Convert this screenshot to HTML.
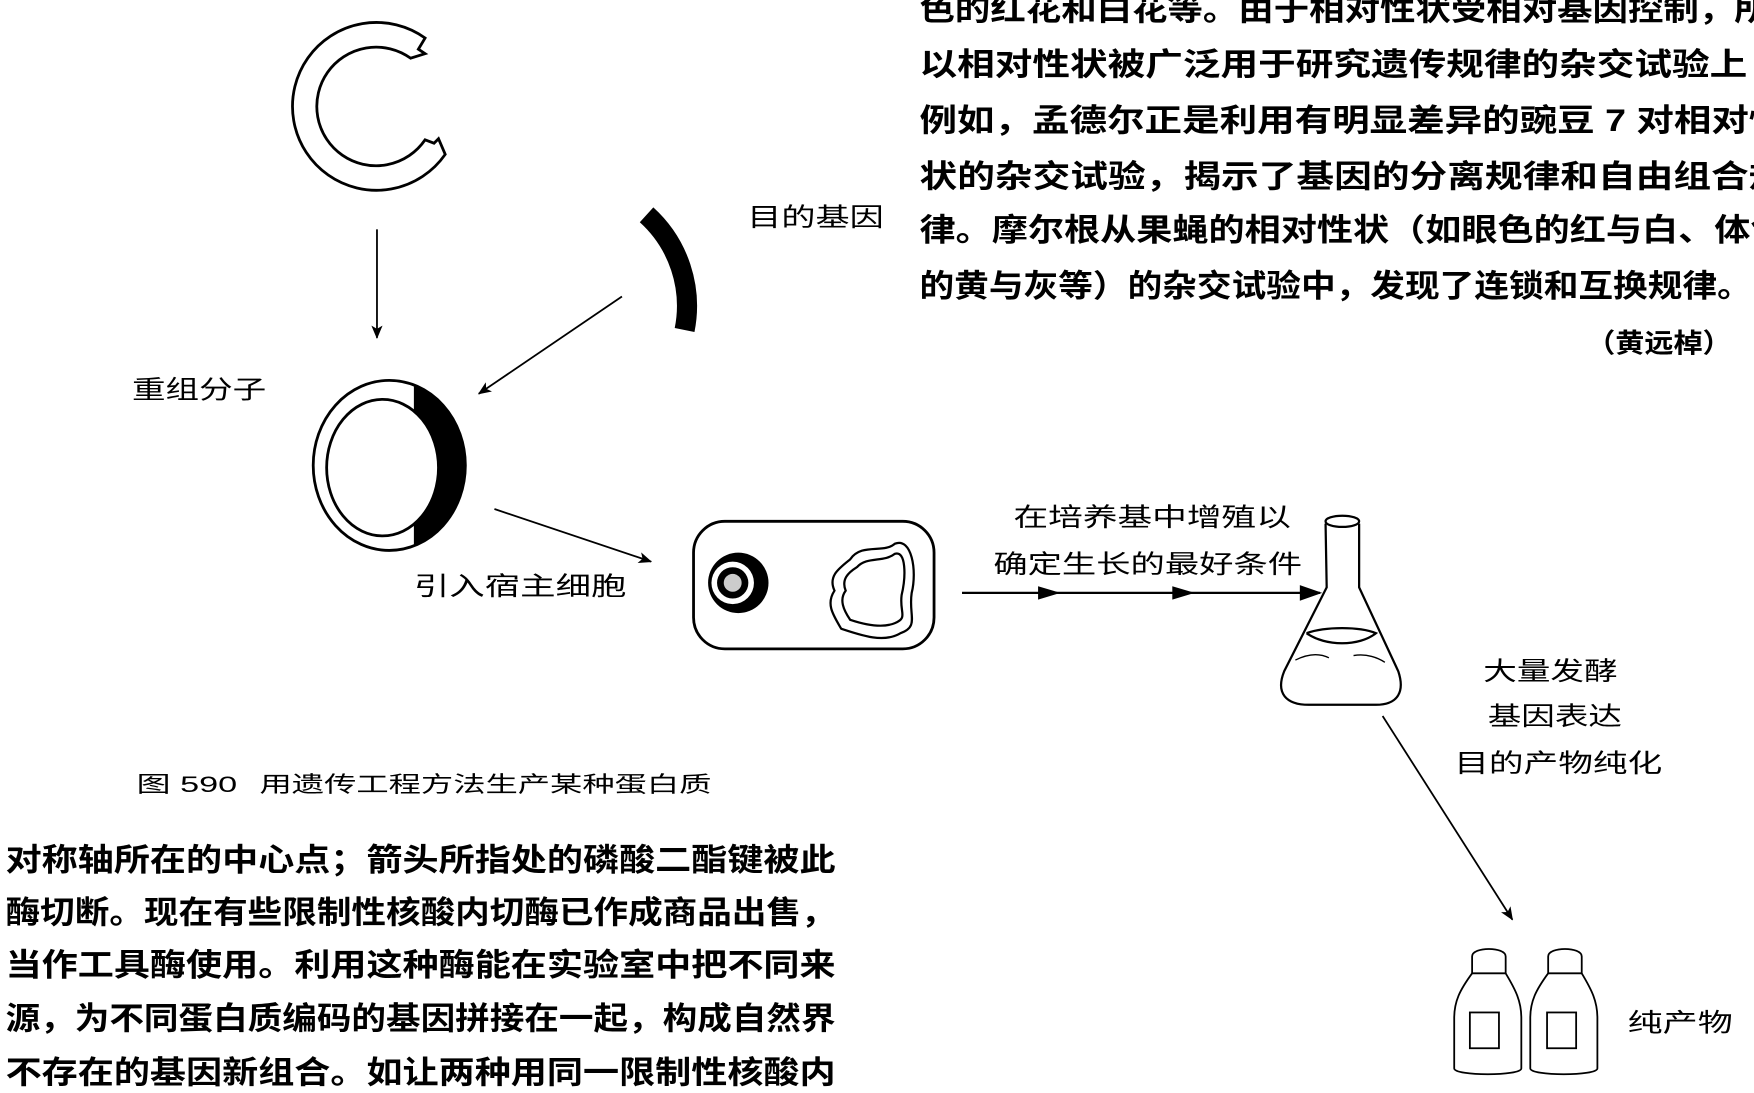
<!DOCTYPE html>
<html><head><meta charset="utf-8"><style>
html,body{margin:0;padding:0;background:#fff;overflow:hidden}
svg{display:block}
text{font-family:"Liberation Sans","Noto Sans CJK SC","WenQuanYi Zen Hei",sans-serif;fill:#000}
.b{font-size:28px;font-weight:bold}
.l{font-size:23px}
</style></head><body>
<svg width="1754" height="1093" viewBox="0 0 1568 977" preserveAspectRatio="none" xmlns="http://www.w3.org/2000/svg">
<defs>
<marker id="ah" markerWidth="12" markerHeight="10" refX="11" refY="5" orient="auto" markerUnits="userSpaceOnUse"><path d="M0,0 L12,5 L0,10 L3,5 Z" fill="#000"/></marker>
<clipPath id="cr"><rect x="370" y="300" width="100" height="240"/></clipPath>
</defs>
<!-- C ring -->
<path d="M380,34 L374,44 L380,48 L367,52 A53,53 0 1 0 380,125 L388,128 L392,124 L398,138 A75,75 0 1 1 380,34 Z" fill="#fff" stroke="#000" stroke-width="2.5"/>
<!-- recombinant ring -->
<ellipse cx="348" cy="416" rx="68" ry="76" fill="#fff" stroke="#000" stroke-width="2.5"/>
<ellipse cx="348" cy="416" rx="68" ry="76" fill="#000" clip-path="url(#cr)"/>
<ellipse cx="342" cy="418" rx="50" ry="61" fill="#fff" stroke="#000" stroke-width="2.5"/>
<!-- gene arc -->
<path d="M578,192 A110,110 0 0 1 612,295" fill="none" stroke="#000" stroke-width="18"/>
<!-- arrows -->
<g stroke="#000" stroke-width="1.6" fill="none" marker-end="url(#ah)">
<line x1="337" y1="205" x2="337" y2="302"/>
<line x1="556" y1="265" x2="428" y2="352"/>
<line x1="442" y1="455" x2="582" y2="502"/>
<line x1="1236" y1="640" x2="1352" y2="822"/>
</g>
<line x1="860" y1="530" x2="1180" y2="530" stroke="#000" stroke-width="2"/>
<path d="M928,524 L948,530 L928,536 Z M1048,524 L1068,530 L1048,536 Z M1162,523 L1182,530 L1162,537 Z" fill="#000"/>
<!-- cell -->
<rect x="620" y="466" width="215" height="114" rx="28" fill="none" stroke="#000" stroke-width="2.5"/>
<circle cx="660" cy="521" r="27" fill="#000"/>
<circle cx="655" cy="521" r="19" fill="#fff"/>
<circle cx="655" cy="521" r="14" fill="#000"/>
<circle cx="655" cy="521" r="8" fill="#ccc"/>
<path d="M760,500 C770,485 790,495 800,486 C815,480 820,510 815,530 C812,550 822,560 805,566 C790,575 770,568 752,562 C745,550 738,540 746,528 C740,515 750,508 760,500 Z" fill="none" stroke="#000" stroke-width="2"/>
<path d="M766,507 C775,497 790,503 800,495 C810,492 810,515 806,532 C804,548 812,552 800,557 C788,562 772,558 760,554 C754,545 750,536 756,528 C752,518 758,512 766,507 Z" fill="none" stroke="#000" stroke-width="2"/>
<!-- flask -->
<g fill="none" stroke="#000" stroke-width="2">
<ellipse cx="1200" cy="466" rx="15" ry="5"/>
<path d="M1185,468 L1186,525 L1148,600 C1140,620 1150,630 1170,630 L1230,630 C1250,630 1256,618 1250,600 L1215,525 L1215,468"/>
<path d="M1168,566 C1185,560 1215,560 1230,566 C1215,578 1185,578 1168,566"/>
<path d="M1158,590 C1170,584 1180,584 1188,588 M1210,586 C1222,584 1232,588 1238,592" stroke-width="1.2"/>
</g>
<!-- bottles -->
<g fill="none" stroke="#000" stroke-width="1.6">
<path d="M1316,855 C1316,846 1346,846 1346,855 L1346,870 L1316,870 Z"/>
<path d="M1316,870 C1305,885 1300,895 1300,910 L1300,955 C1300,962 1360,962 1360,955 L1360,910 C1360,895 1355,885 1346,870"/>
<rect x="1314" y="905" width="26" height="32"/>
<path d="M1384,855 C1384,846 1414,846 1414,855 L1414,870 L1384,870 Z"/>
<path d="M1384,870 C1373,885 1368,895 1368,910 L1368,955 C1368,962 1428,962 1428,955 L1428,910 C1428,895 1423,885 1414,870"/>
<rect x="1383" y="905" width="26" height="32"/>
</g>
<!-- labels -->
<text class="l" x="668" y="202" textLength="122" lengthAdjust="spacingAndGlyphs">目的基因</text>
<text class="l" x="118" y="356" textLength="120" lengthAdjust="spacingAndGlyphs">重组分子</text>
<text class="l" x="370" y="532" textLength="190" lengthAdjust="spacingAndGlyphs">引入宿主细胞</text>
<text class="l" x="906" y="470" textLength="248" lengthAdjust="spacingAndGlyphs">在培养基中增殖以</text>
<text class="l" x="888" y="512" textLength="276" lengthAdjust="spacingAndGlyphs">确定生长的最好条件</text>
<text class="l" x="1326" y="608" textLength="120" lengthAdjust="spacingAndGlyphs">大量发酵</text>
<text class="l" x="1330" y="648" textLength="120" lengthAdjust="spacingAndGlyphs">基因表达</text>
<text class="l" x="1300" y="690" textLength="186" lengthAdjust="spacingAndGlyphs">目的产物纯化</text>
<text class="l" x="1455" y="922" textLength="94" lengthAdjust="spacingAndGlyphs">纯产物</text>
<text x="122" y="708" style="font-size:20px" textLength="90" lengthAdjust="spacingAndGlyphs">图 590</text>
<text x="232" y="708" style="font-size:20px" textLength="404" lengthAdjust="spacingAndGlyphs">用遗传工程方法生产某种蛋白质</text>
<!-- right paragraph -->
<text class="b" x="822" y="18" textLength="760" lengthAdjust="spacingAndGlyphs">色的红花和白花等。由于相对性状受相对基因控制，所</text>
<text class="b" x="822" y="67" textLength="740" lengthAdjust="spacingAndGlyphs">以相对性状被广泛用于研究遗传规律的杂交试验上</text>
<text class="b" x="822" y="117" textLength="775" lengthAdjust="spacingAndGlyphs">例如，孟德尔正是利用有明显差异的豌豆 7 对相对性</text>
<text class="b" x="822" y="167" textLength="775" lengthAdjust="spacingAndGlyphs">状的杂交试验，揭示了基因的分离规律和自由组合规</text>
<text class="b" x="822" y="215" textLength="775" lengthAdjust="spacingAndGlyphs">律。摩尔根从果蝇的相对性状（如眼色的红与白、体色</text>
<text class="b" x="822" y="265" textLength="744" lengthAdjust="spacingAndGlyphs">的黄与灰等）的杂交试验中，发现了连锁和互换规律。</text>
<text class="b" x="1418" y="315" style="font-size:24px" textLength="130" lengthAdjust="spacingAndGlyphs">（黄远棹）</text>
<!-- bottom paragraph -->
<text class="b" x="5" y="778" textLength="742" lengthAdjust="spacingAndGlyphs">对称轴所在的中心点；箭头所指处的磷酸二酯键被此</text>
<text class="b" x="5" y="825" textLength="742" lengthAdjust="spacingAndGlyphs">酶切断。现在有些限制性核酸内切酶已作成商品出售，</text>
<text class="b" x="5" y="872" textLength="742" lengthAdjust="spacingAndGlyphs">当作工具酶使用。利用这种酶能在实验室中把不同来</text>
<text class="b" x="5" y="920" textLength="742" lengthAdjust="spacingAndGlyphs">源，为不同蛋白质编码的基因拼接在一起，构成自然界</text>
<text class="b" x="5" y="968" textLength="742" lengthAdjust="spacingAndGlyphs">不存在的基因新组合。如让两种用同一限制性核酸内</text>
</svg>
</body></html>
